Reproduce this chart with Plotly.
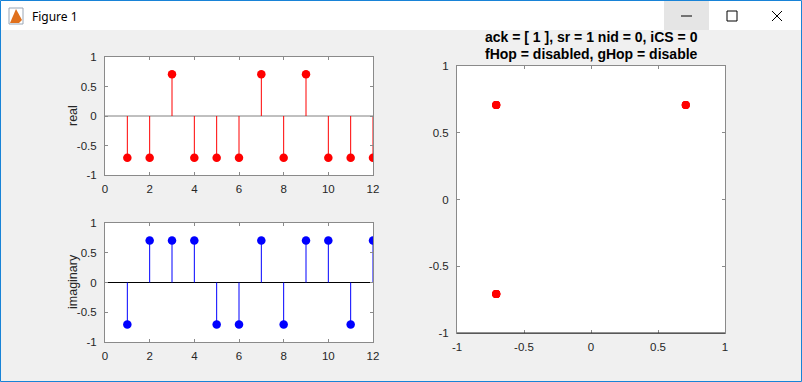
import plotly.graph_objects as go

# ---------------- data ----------------
n = list(range(1, 13))
real_vals = [-0.7071, -0.7071, 0.7071, -0.7071, -0.7071, -0.7071,
             0.7071, -0.7071, 0.7071, -0.7071, -0.7071, -0.7071]
imag_vals = [-0.7071, 0.7071, 0.7071, 0.7071, -0.7071, -0.7071,
             0.7071, -0.7071, 0.7071, 0.7071, -0.7071, 0.7071]
stem_xticks = [0, 2, 4, 6, 8, 10, 12]
amp_ticks = [-1, -0.5, 0, 0.5, 1]
amp_tick_text = ["-1", "-0.5", "0", "0.5", "1"]
title_lines = ["ack = [ 1 ], sr = 1 nid = 0, iCS = 0",
               "fHop = disabled, gHop = disable"]
ylabels = ["real", "imaginary"]
window_title = "Figure 1"

W, H = 802, 382
def fx(px): return px / W
def fy(py): return 1 - py / H

FONT = "Liberation Sans, Arial, sans-serif"
TXT = "#262626"
AX = "#8a8a8a"

def stem_xy(xs, ys):
    sx, sy = [], []
    for a, b in zip(xs, ys):
        sx += [a, a, None]
        sy += [0, b, None]
    return sx, sy

fig = go.Figure()

rx, ry = stem_xy(n, real_vals)
fig.add_trace(go.Scatter(x=rx, y=ry, mode="lines", line=dict(color="#ff0000", width=1),
                         xaxis="x", yaxis="y", hoverinfo="skip"))
fig.add_trace(go.Scatter(x=n, y=real_vals, mode="markers",
                         marker=dict(color="#ff0000", size=8.5), xaxis="x", yaxis="y"))
ix, iy = stem_xy(n, imag_vals)
fig.add_trace(go.Scatter(x=ix, y=iy, mode="lines", line=dict(color="#0000ff", width=1),
                         xaxis="x2", yaxis="y2", hoverinfo="skip"))
fig.add_trace(go.Scatter(x=n, y=imag_vals, mode="markers",
                         marker=dict(color="#0000ff", size=8.5), xaxis="x2", yaxis="y2"))
fig.add_trace(go.Scatter(x=real_vals, y=imag_vals, mode="markers",
                         marker=dict(color="#ff0000", size=8), xaxis="x3", yaxis="y3"))

def axstyle(dom, anchor, rng, tv, tt, standoff):
    return dict(domain=dom, anchor=anchor, range=rng, tickvals=tv, ticktext=tt,
                automargin=False,
                showline=True, linecolor=AX, linewidth=1, mirror="ticks",
                ticks="inside", ticklen=3, tickcolor=AX, tickwidth=1,
                showgrid=False, zeroline=False, fixedrange=True,
                tickfont=dict(family=FONT, size=11.5, color=TXT),
                ticklabelstandoff=standoff)

xl = [fx(105), fx(373)]
xr = [fx(457), fx(725)]
y_top = [fy(175), fy(57)]
y_bot = [fy(342), fy(223)]
y_r = [fy(333), fy(66)]

fig.update_layout(
    template="none",
    width=W, height=H, margin=dict(l=0, r=0, t=0, b=0, pad=0), autosize=False,
    paper_bgcolor="#f0f0f0", plot_bgcolor="#ffffff", showlegend=False,
    xaxis=axstyle(xl, "y", [0, 12], stem_xticks, [str(v) for v in stem_xticks], 3),
    yaxis=axstyle(y_top, "x", [-1, 1], amp_ticks, amp_tick_text, 5),
    xaxis2=axstyle(xl, "y2", [0, 12], stem_xticks, [str(v) for v in stem_xticks], 3),
    yaxis2=axstyle(y_bot, "x2", [-1, 1], amp_ticks, amp_tick_text, 5),
    xaxis3=axstyle(xr, "y3", [-1, 1], amp_ticks, amp_tick_text, 3),
    yaxis3=axstyle(y_r, "x3", [-1, 1], amp_ticks, amp_tick_text, 5),
)

shapes = [
    # baselines of stem plots
    dict(type="line", xref="x domain", yref="y", x0=0, x1=1, y0=0, y1=0,
         line=dict(color="#808080", width=1), layer="below"),
    dict(type="line", xref="x2 domain", yref="y2", x0=0, x1=1, y0=0, y1=0,
         line=dict(color="#000000", width=1), layer="below"),
    # darker bottom edge on right axes
    dict(type="line", xref="x3 domain", yref="y3 domain", x0=0, x1=1, y0=0, y1=0,
         line=dict(color="#262626", width=1)),
    # window title bar
    dict(type="rect", xref="paper", yref="paper", x0=0, x1=1, y0=fy(30), y1=1,
         fillcolor="#ffffff", line=dict(width=0)),
    dict(type="rect", xref="paper", yref="paper", x0=fx(664), x1=fx(709), y0=fy(30), y1=fy(1),
         fillcolor="#e5e5e5", line=dict(width=0)),
    # minimize
    dict(type="line", xref="paper", yref="paper", x0=fx(681), x1=fx(692), y0=fy(16), y1=fy(16),
         line=dict(color="#000000", width=1)),
    # maximize
    dict(type="rect", xref="paper", yref="paper", x0=fx(727), x1=fx(737), y0=fy(21), y1=fy(11),
         line=dict(color="#000000", width=1), fillcolor="rgba(0,0,0,0)"),
    # close
    dict(type="line", xref="paper", yref="paper", x0=fx(772), x1=fx(782), y0=fy(11), y1=fy(21),
         line=dict(color="#000000", width=1)),
    dict(type="line", xref="paper", yref="paper", x0=fx(772), x1=fx(782), y0=fy(21), y1=fy(11),
         line=dict(color="#000000", width=1)),
    # icon
    dict(type="path", xref="paper", yref="paper",
         path=f"M {fx(10)},{fy(23)} L {fx(16)},{fy(9)} L {fx(22)},{fy(20)} L {fx(19)},{fy(23)} Z",
         fillcolor="#e0701c", line=dict(width=0)),
    dict(type="rect", xref="paper", yref="paper", x0=fx(9), x1=fx(23), y0=fy(24), y1=fy(8),
         line=dict(color="#9aa6b5", width=1), fillcolor="rgba(0,0,0,0)"),
    # window border
    dict(type="rect", xref="paper", yref="paper", x0=fx(0.5), x1=fx(801.5), y0=fy(381.5), y1=fy(0.5),
         line=dict(color="#1883d7", width=1), fillcolor="rgba(0,0,0,0)"),
]
fig.update_layout(shapes=shapes)

annotations = []
for txt, yy in zip(title_lines, [37, 54]):
    annotations.append(dict(text="<b>" + txt + "</b>", x=fx(591), y=fy(yy), xref="paper", yref="paper",
                            showarrow=False, xanchor="center", yanchor="middle",
                            font=dict(family=FONT, size=14, color="#000000")))
for txt, yy in zip(ylabels, [116, 282]):
    annotations.append(dict(text=txt, x=fx(73), y=fy(yy), xref="paper", yref="paper",
                            showarrow=False, textangle=-90, xanchor="center", yanchor="middle",
                            font=dict(family=FONT, size=12.5, color=TXT)))
annotations.append(dict(text=window_title, x=fx(30), y=fy(16), xref="paper", yref="paper",
                        showarrow=False, xanchor="left", yanchor="middle",
                        font=dict(family="Noto Sans, DejaVu Sans, sans-serif", size=12, color="#000000")))
fig.update_layout(annotations=annotations)

fig.write_html("out.html", config={"displayModeBar": False},
               post_script="document.body.style.margin='0px';document.body.style.overflow='hidden';")
